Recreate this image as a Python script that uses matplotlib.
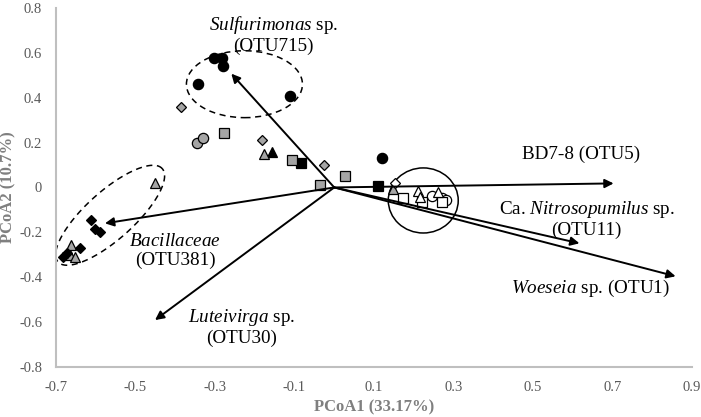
import numpy as np
import matplotlib
matplotlib.use("Agg")
from matplotlib import pyplot as plt
from matplotlib.patches import Ellipse

plt.rcParams['font.family'] = ['Liberation Serif', 'DejaVu Serif']
plt.rcParams['mathtext.fontset'] = 'custom'
plt.rcParams['mathtext.rm'] = 'Liberation Serif'
plt.rcParams['mathtext.it'] = 'Liberation Serif:italic'

# sample scores (PCoA1, PCoA2), grouped by symbol
black_circle_x = [-0.302, -0.282, -0.279, -0.342, -0.111, 0.121]
black_circle_y = [0.578, 0.578, 0.542, 0.462, 0.409, 0.129]
gray_circle_x = [-0.345, -0.330]
gray_circle_y = [0.196, 0.222]
open_circle_x = [0.247, 0.272, 0.282]
open_circle_y = [-0.036, -0.049, -0.058]

black_square_x = [-0.083, 0.109]
black_square_y = [0.111, 0.007]
gray_square_x = [-0.277, -0.106, -0.035, 0.028]
gray_square_y = [0.244, 0.124, 0.009, 0.053]
open_square_x = [0.174, 0.222, 0.272]
open_square_y = [-0.049, -0.067, -0.067]

black_tri_x = [-0.156]
black_tri_y = [0.160]
gray_tri_x = [-0.176, -0.451, -0.662, -0.665, -0.652, 0.149]
gray_tri_y = [0.151, 0.022, -0.258, -0.302, -0.311, -0.009]
open_tri_x = [0.212, 0.217, 0.262]
open_tri_y = [-0.018, -0.044, -0.022]

black_dia_x = [-0.612, -0.602, -0.589, -0.682, -0.640, -0.672]
black_dia_y = [-0.147, -0.187, -0.200, -0.311, -0.271, -0.293]
gray_dia_x = [-0.385, -0.181, -0.025]
gray_dia_y = [0.360, 0.213, 0.098]
open_dia_x = [0.154]
open_dia_y = [0.018]

# OTU vectors (arrow tips, from origin)
otu_x = [-0.259, 0.703, 0.617, 0.859, -0.577, -0.451]
otu_y = [0.507, 0.018, -0.249, -0.396, -0.160, -0.591]
otu_labels = [r"$\it{Sulfurimonas}$ sp." + "\n(OTU715)",
              "BD7-8 (OTU5)",
              r"Ca. $\it{Nitrosopumilus}$ sp." + "\n(OTU11)",
              r"$\it{Woeseia}$ sp. (OTU1)",
              r"$\it{Bacillaceae}$" + "\n(OTU381)",
              r"$\it{Luteivirga}$ sp." + "\n(OTU30)"]
label_x = [-0.153, 0.620, 0.635, 0.645, -0.400, -0.234]
label_y = [0.682, 0.147, -0.142, -0.449, -0.284, -0.622]

gray = '#a5a5a5'
fig = plt.figure(figsize=(7.01, 4.17), dpi=100)
ax = fig.add_axes([0.08, 0.12, 0.907, 0.861])

ms = 7.4
kw = dict(linestyle='none', markeredgecolor='black', markeredgewidth=0.9)
ax.plot(black_circle_x, black_circle_y, 'o', color='black', markersize=ms, **kw)
ax.plot(gray_circle_x, gray_circle_y, 'o', color=gray, markersize=ms, **kw)
ax.plot(open_circle_x, open_circle_y, 'o', color='white', markersize=ms, **kw)
ax.plot(black_square_x, black_square_y, 's', color='black', markersize=ms - 0.6, **kw)
ax.plot(gray_square_x, gray_square_y, 's', color=gray, markersize=ms - 0.6, **kw)
ax.plot(open_square_x, open_square_y, 's', color='white', markersize=ms - 0.6, **kw)
ax.plot(black_tri_x, black_tri_y, '^', color='black', markersize=ms, **kw)
ax.plot(gray_tri_x, gray_tri_y, '^', color=gray, markersize=ms, **kw)
ax.plot(open_tri_x, open_tri_y, '^', color='white', markersize=ms, **kw)
ax.plot(black_dia_x, black_dia_y, 'D', color='black', markersize=ms - 1.8, **kw)
ax.plot(gray_dia_x, gray_dia_y, 'D', color=gray, markersize=ms - 1.8, **kw)
ax.plot(open_dia_x, open_dia_y, 'D', color='white', markersize=ms - 1.8, **kw)

for tx, ty in zip(otu_x, otu_y):
    ax.annotate("", xy=(tx, ty), xytext=(0, 0),
                arrowprops=dict(arrowstyle='-|>', color='black', lw=1.4,
                                mutation_scale=13, shrinkA=0, shrinkB=0))

for lx, ly, lab in zip(label_x, label_y, otu_labels):
    ax.text(lx, ly, lab, ha='center', va='center', fontsize=13.8,
            linespacing=1.15, color='black')

# group outlines
ax.add_patch(Ellipse((-0.226, 0.46), 0.292, 0.298, fill=False,
                     linestyle=(0, (4, 3)), lw=1.1, edgecolor='black'))
ax.add_patch(Ellipse((0.224, -0.058), 0.176, 0.29, fill=False,
                     lw=1.1, edgecolor='black'))
# tilted dashed ellipse, drawn in pixel-scaled units
t = np.linspace(0, 2 * np.pi, 200)
a, b, th = 70, 24, np.deg2rad(42)
ex = -0.564 + (a * np.cos(th) * np.cos(t) - b * np.sin(th) * np.sin(t)) / 397
ey = -0.124 + (a * np.sin(th) * np.cos(t) + b * np.cos(th) * np.sin(t)) / 225
ax.plot(ex, ey, color='black', lw=1.1, linestyle=(0, (4, 3)))

ax.set_xlim(-0.7, 0.9)
ax.set_ylim(-0.8, 0.8)
ax.set_xticks(np.arange(-0.7, 0.91, 0.2))
ax.set_yticks(np.arange(-0.8, 0.81, 0.2))
ax.set_xticklabels(['-0.7', '-0.5', '-0.3', '-0.1', '0.1', '0.3', '0.5', '0.7', '0.9'])
ax.set_yticklabels(['-0.8', '-0.6', '-0.4', '-0.2', '0', '0.2', '0.4', '0.6', '0.8'])
ax.tick_params(length=0, labelsize=10.5, colors='#595959', pad=10)
for s in ['top', 'right']:
    ax.spines[s].set_visible(False)
for s in ['left', 'bottom']:
    ax.spines[s].set_color('#bfbfbf')
    ax.spines[s].set_linewidth(1.5)
ax.set_xlabel("PCoA1 (33.17%)", fontsize=12, fontweight='bold', color='#7f7f7f', labelpad=4)
ax.set_ylabel("PCoA2 (10.7%)", fontsize=12, fontweight='bold', color='#7f7f7f', labelpad=2)

fig.savefig("out.png", dpi=100)
